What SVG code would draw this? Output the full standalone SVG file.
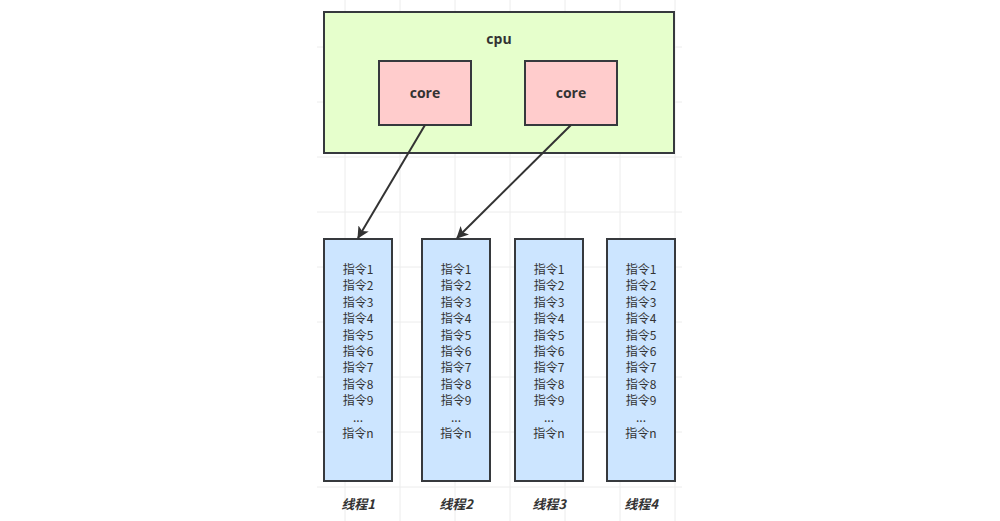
<svg xmlns="http://www.w3.org/2000/svg" width="1000" height="521" viewBox="0 0 1000 521">
<defs>
<marker id="arr" markerWidth="12" markerHeight="12" refX="11" refY="6" orient="auto" markerUnits="userSpaceOnUse" viewBox="0 0 12 12">
<path d="M0,0 L12,6 L0,12 L3,6 Z" fill="#333"/>
</marker>
</defs>
<style>
.box{stroke:#36393d;stroke-width:2}
.lbl{font-family:"Open Sans","Noto Sans",sans-serif;font-weight:bold;font-size:14px;fill:#333;text-anchor:middle}
.ins{font-family:"Noto Sans CJK SC","Noto Sans",sans-serif;font-size:12px;fill:#333;text-anchor:middle}
.th{font-family:"Noto Sans CJK SC",sans-serif;font-weight:bold;font-style:italic;font-size:13px;fill:#333;text-anchor:middle}
.grid line{stroke:#ececec;stroke-width:1}
.edge{stroke:#333;stroke-width:2;fill:none}
</style>
<rect width="1000" height="521" fill="#fff"/>
<g class="grid">
<line x1="345" y1="0" x2="345" y2="521"/>
<line x1="400" y1="0" x2="400" y2="521"/>
<line x1="455" y1="0" x2="455" y2="521"/>
<line x1="510" y1="0" x2="510" y2="521"/>
<line x1="565" y1="0" x2="565" y2="521"/>
<line x1="620" y1="0" x2="620" y2="521"/>
<line x1="675" y1="0" x2="675" y2="521"/>
<line x1="317" y1="47" x2="682" y2="47"/>
<line x1="317" y1="102" x2="682" y2="102"/>
<line x1="317" y1="157" x2="682" y2="157"/>
<line x1="317" y1="212" x2="682" y2="212"/>
<line x1="317" y1="267" x2="682" y2="267"/>
<line x1="317" y1="322" x2="682" y2="322"/>
<line x1="317" y1="377" x2="682" y2="377"/>
<line x1="317" y1="432" x2="682" y2="432"/>
<line x1="317" y1="487" x2="682" y2="487"/>
</g>
<g id="cpu">
<rect class="box" x="324" y="12" width="350" height="141" fill="#e6ffcc"/>
<text class="lbl" x="499" y="44">cpu</text>
</g>
<g id="core1">
<rect class="box" x="379" y="61" width="92" height="64" fill="#ffcccc"/>
<text class="lbl" x="425" y="98">core</text>
</g>
<g id="core2">
<rect class="box" x="525" y="61" width="92" height="64" fill="#ffcccc"/>
<text class="lbl" x="571" y="98">core</text>
</g>
<g id="thread1">
<rect class="box" x="324" y="239" width="68" height="242" fill="#cce5ff"/>
<text class="ins" x="358" y="274"><tspan x="358">指令1</tspan><tspan x="358" dy="16.4">指令2</tspan><tspan x="358" dy="16.4">指令3</tspan><tspan x="358" dy="16.4">指令4</tspan><tspan x="358" dy="16.4">指令5</tspan><tspan x="358" dy="16.4">指令6</tspan><tspan x="358" dy="16.4">指令7</tspan><tspan x="358" dy="16.4">指令8</tspan><tspan x="358" dy="16.4">指令9</tspan><tspan x="358" dy="16.4">...</tspan><tspan x="358" dy="16.4">指令n</tspan></text>
<text class="th" x="358" y="509">线程1</text>
</g>
<g id="thread2">
<rect class="box" x="422" y="239" width="68" height="242" fill="#cce5ff"/>
<text class="ins" x="456" y="274"><tspan x="456">指令1</tspan><tspan x="456" dy="16.4">指令2</tspan><tspan x="456" dy="16.4">指令3</tspan><tspan x="456" dy="16.4">指令4</tspan><tspan x="456" dy="16.4">指令5</tspan><tspan x="456" dy="16.4">指令6</tspan><tspan x="456" dy="16.4">指令7</tspan><tspan x="456" dy="16.4">指令8</tspan><tspan x="456" dy="16.4">指令9</tspan><tspan x="456" dy="16.4">...</tspan><tspan x="456" dy="16.4">指令n</tspan></text>
<text class="th" x="456" y="509">线程2</text>
</g>
<g id="thread3">
<rect class="box" x="515" y="239" width="68" height="242" fill="#cce5ff"/>
<text class="ins" x="549" y="274"><tspan x="549">指令1</tspan><tspan x="549" dy="16.4">指令2</tspan><tspan x="549" dy="16.4">指令3</tspan><tspan x="549" dy="16.4">指令4</tspan><tspan x="549" dy="16.4">指令5</tspan><tspan x="549" dy="16.4">指令6</tspan><tspan x="549" dy="16.4">指令7</tspan><tspan x="549" dy="16.4">指令8</tspan><tspan x="549" dy="16.4">指令9</tspan><tspan x="549" dy="16.4">...</tspan><tspan x="549" dy="16.4">指令n</tspan></text>
<text class="th" x="549" y="509">线程3</text>
</g>
<g id="thread4">
<rect class="box" x="607" y="239" width="68" height="242" fill="#cce5ff"/>
<text class="ins" x="641" y="274"><tspan x="641">指令1</tspan><tspan x="641" dy="16.4">指令2</tspan><tspan x="641" dy="16.4">指令3</tspan><tspan x="641" dy="16.4">指令4</tspan><tspan x="641" dy="16.4">指令5</tspan><tspan x="641" dy="16.4">指令6</tspan><tspan x="641" dy="16.4">指令7</tspan><tspan x="641" dy="16.4">指令8</tspan><tspan x="641" dy="16.4">指令9</tspan><tspan x="641" dy="16.4">...</tspan><tspan x="641" dy="16.4">指令n</tspan></text>
<text class="th" x="641" y="509">线程4</text>
</g>
<g id="connectors">
<line class="edge" x1="425" y1="125" x2="358" y2="238" marker-end="url(#arr)"/>
<line class="edge" x1="571" y1="125" x2="457" y2="238" marker-end="url(#arr)"/>
</g>
</svg>
